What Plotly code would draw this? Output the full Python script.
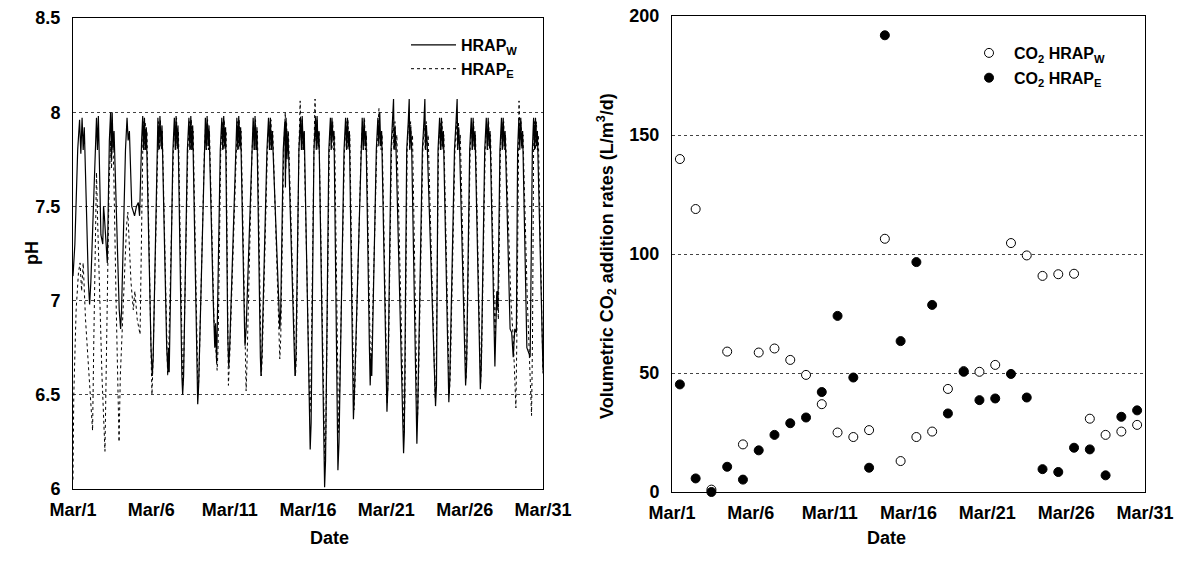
import plotly.graph_objects as go

# ---------------- data ----------------
tick_days = [0, 5, 10, 15, 20, 25, 30]
tick_labels = ["Mar/1", "Mar/6", "Mar/11", "Mar/16", "Mar/21", "Mar/26", "Mar/31"]

# pH time series (time in days since Mar/1 00:00)
ph_w_t = [
    0.0, 0.12, 0.3, 0.42, 0.5, 0.58, 0.65, 0.72, 0.98, 1.06, 1.14,
    1.4, 1.5, 1.56, 1.62, 1.68, 1.78, 1.9, 1.95, 2.0, 2.19,
    2.32, 2.4, 2.45, 2.5, 2.56, 2.62, 2.95, 3.04, 3.1,
    3.35, 3.45, 3.52, 3.6, 3.75, 3.93, 4.05, 4.17, 4.25,
    4.38, 4.45, 4.5, 4.56, 4.62, 4.68, 4.98, 5.06, 5.12,
    5.35, 5.42, 5.48, 5.55, 5.62, 5.68, 5.98, 6.06, 6.1, 6.14,
    6.38, 6.47, 6.53, 6.58, 6.64, 6.7, 6.95, 7.0, 7.06,
    7.3, 7.4, 7.46, 7.52, 7.58, 7.64, 7.9, 7.96, 8.02,
    8.36, 8.45, 8.5, 8.56, 8.62, 8.68, 8.95, 9.05, 9.1, 9.17,
    9.4, 9.5, 9.56, 9.62, 9.68, 9.74, 9.88, 9.94, 10.0,
    10.36, 10.46, 10.52, 10.58, 10.64, 10.7, 10.95, 10.98, 11.05,
    11.4, 11.5, 11.56, 11.62, 11.68, 11.74, 11.96, 12.0, 12.06,
    12.38, 12.48, 12.54, 12.6, 12.66, 12.72, 13.1, 13.2, 13.26,
    13.42, 13.52, 13.56, 13.6, 13.66, 13.72, 14.1, 14.17, 14.23,
    14.42, 14.52, 14.58, 14.63, 14.7, 14.76, 15.05, 15.1, 15.14, 15.2,
    15.38, 15.48, 15.53, 15.58, 15.64, 15.7, 16.06, 16.12,
    16.33, 16.43, 16.48, 16.53, 16.6, 16.66, 16.91, 16.98,
    17.3, 17.4, 17.46, 17.52, 17.58, 17.64, 17.9, 17.96,
    18.36, 18.46, 18.52, 18.58, 18.64, 18.7, 18.92, 18.97, 19.03, 19.07,
    19.36, 19.46, 19.52, 19.58, 19.64, 19.7, 20.04, 20.1,
    20.3, 20.4, 20.46, 20.5, 20.56, 20.62, 21.05, 21.1, 21.15,
    21.3, 21.4, 21.46, 21.5, 21.56, 21.62, 21.95, 22.0,
    22.3, 22.4, 22.46, 22.5, 22.56, 22.62, 23.1, 23.14, 23.2,
    23.3, 23.4, 23.46, 23.52, 23.58, 23.64, 23.99, 24.05,
    24.35, 24.45, 24.52, 24.56, 24.62, 24.68, 25.06, 25.12,
    25.32, 25.42, 25.48, 25.54, 25.6, 25.66, 26.0, 26.06,
    26.28, 26.38, 26.44, 26.5, 26.56, 26.62, 26.93, 27.05, 27.12,
    27.25, 27.35, 27.4, 27.46, 27.52, 27.58, 27.9, 28.0, 28.1, 28.2, 28.3,
    28.38, 28.46, 28.52, 28.58, 28.64, 28.7, 28.97, 29.1, 29.18,
    29.32, 29.4, 29.46, 29.52, 29.58, 29.64, 30.0,
]
ph_w_v = [
    7.13, 7.3, 7.8, 7.96, 7.78, 7.97, 7.8, 7.92, 7.1, 6.98, 7.1,
    7.8, 7.97, 7.8, 7.98, 7.75, 7.35, 7.3, 7.5, 7.45, 7.2,
    7.85, 8.0, 7.75, 8.0, 7.8, 7.9, 6.95, 6.85, 6.95,
    7.8, 7.97, 7.85, 7.9, 7.5, 7.45, 7.5, 7.52, 7.45,
    7.85, 7.98, 7.8, 7.97, 7.8, 7.92, 6.75, 6.6, 6.7,
    7.8, 7.97, 7.8, 7.98, 7.82, 7.93, 6.75, 6.62, 6.75, 6.62,
    7.8, 7.97, 7.8, 7.98, 7.82, 7.93, 6.6, 6.5, 6.6,
    7.8, 7.97, 7.8, 7.98, 7.8, 7.93, 6.55, 6.45, 6.55,
    7.8, 7.97, 7.8, 7.98, 7.82, 7.93, 7.0, 6.75, 6.88, 6.67,
    7.8, 7.97, 7.8, 7.98, 7.82, 7.92, 6.8, 6.65, 6.75,
    7.8, 7.97, 7.8, 7.98, 7.82, 7.92, 6.85, 6.76, 6.85,
    7.8, 7.97, 7.8, 7.98, 7.8, 7.92, 6.7, 6.6, 6.72,
    7.8, 7.97, 7.8, 7.97, 7.8, 7.9, 7.0, 6.85, 6.95,
    7.8, 7.95, 7.6, 7.97, 7.75, 7.9, 6.7, 6.6, 6.7,
    7.8, 7.97, 7.8, 7.98, 7.8, 7.9, 6.5, 6.3, 6.21, 6.35,
    7.8, 7.97, 7.8, 7.98, 7.82, 7.9, 6.01, 6.15,
    7.8, 7.97, 7.8, 7.97, 7.85, 7.9, 6.1, 6.25,
    7.8, 7.97, 7.8, 7.97, 7.82, 7.9, 6.37, 6.5,
    7.8, 7.97, 7.8, 7.97, 7.82, 7.9, 6.75, 6.55, 6.72, 6.6,
    7.8, 7.97, 7.82, 8.0, 7.82, 7.9, 6.41, 6.55,
    7.8, 7.95, 8.07, 7.8, 7.92, 7.8, 6.25, 6.19, 6.3,
    7.8, 7.95, 8.07, 7.8, 7.92, 7.8, 6.24, 6.4,
    7.8, 7.95, 8.07, 7.8, 7.93, 7.8, 6.5, 6.44, 6.55,
    7.8, 7.97, 7.8, 7.97, 7.82, 7.9, 6.46, 6.58,
    7.8, 7.95, 8.07, 7.8, 7.92, 7.8, 6.55, 6.65,
    7.8, 7.97, 7.8, 7.97, 7.82, 7.9, 6.53, 6.65,
    7.8, 7.97, 7.8, 7.97, 7.82, 7.9, 6.65, 7.05, 6.95,
    7.8, 7.97, 7.8, 7.97, 7.82, 7.9, 6.85, 6.83, 6.7, 6.85, 6.83,
    7.8, 7.97, 7.8, 7.97, 7.82, 7.9, 6.75, 6.72, 6.7,
    7.8, 7.97, 7.8, 7.97, 7.82, 7.9, 6.63,
]

ph_e_t = [
    0.0, 0.05, 0.2, 0.35, 0.45, 0.55, 0.65, 0.8, 0.95, 1.1, 1.25, 1.33,
    1.43, 1.5, 1.58, 1.7, 1.85, 2.04, 2.12,
    2.3, 2.4, 2.46, 2.52, 2.6, 2.75, 2.94, 3.02,
    3.3, 3.42, 3.5, 3.58, 3.7, 3.85, 3.95, 4.1, 4.28, 4.33,
    4.42, 4.48, 4.54, 4.6, 4.66, 4.72, 5.0, 5.04, 5.1,
    5.38, 5.45, 5.51, 5.58, 5.64, 5.7, 6.04, 6.1,
    6.41, 6.5, 6.56, 6.61, 6.67, 6.73, 7.0, 7.06,
    7.33, 7.43, 7.49, 7.55, 7.61, 7.67, 7.98, 8.04,
    8.39, 8.48, 8.53, 8.59, 8.65, 8.71, 9.0, 9.2, 9.26,
    9.43, 9.53, 9.59, 9.65, 9.71, 9.77, 9.92, 10.0,
    10.39, 10.49, 10.55, 10.61, 10.67, 10.73, 11.05, 11.1,
    11.43, 11.53, 11.59, 11.65, 11.71, 11.77, 12.02, 12.08,
    12.41, 12.51, 12.57, 12.63, 12.69, 12.75, 13.2, 13.26,
    13.45, 13.55, 13.59, 13.63, 13.69, 13.75, 14.2, 14.26,
    14.42, 14.5, 14.56, 14.62, 14.68, 14.74, 15.12, 15.18,
    15.38, 15.45, 15.5, 15.58, 15.64, 15.7, 16.08, 16.14,
    16.36, 16.46, 16.52, 16.58, 16.64, 16.7, 16.95, 17.0,
    17.33, 17.43, 17.49, 17.55, 17.61, 17.67, 17.93, 18.0,
    18.39, 18.49, 18.55, 18.61, 18.67, 18.73, 19.0, 19.06,
    19.39, 19.49, 19.53, 19.59, 19.67, 19.73, 20.06, 20.12,
    20.33, 20.43, 20.49, 20.55, 20.61, 20.67, 21.12, 21.18,
    21.33, 21.43, 21.49, 21.55, 21.61, 21.67, 21.98, 22.04,
    22.33, 22.43, 22.49, 22.55, 22.61, 22.67, 23.12, 23.18,
    23.33, 23.43, 23.49, 23.55, 23.61, 23.67, 24.02, 24.08,
    24.38, 24.48, 24.54, 24.6, 24.66, 24.72, 25.08, 25.14,
    25.35, 25.45, 25.51, 25.57, 25.63, 25.69, 26.02, 26.08,
    26.31, 26.41, 26.47, 26.53, 26.59, 26.65, 26.95, 27.0, 27.1, 27.15,
    27.28, 27.38, 27.43, 27.49, 27.55, 27.61, 27.95, 28.1, 28.27, 28.33,
    28.41, 28.47, 28.53, 28.6, 28.66, 28.72, 29.0, 29.15, 29.27, 29.33,
    29.4, 29.46, 29.52, 29.58, 29.64, 29.7, 30.0,
]
ph_e_v = [
    6.05, 6.5, 6.95, 7.15, 7.2, 7.05, 7.2, 6.9, 6.7, 6.5, 6.31, 6.8,
    7.5, 7.68, 7.4, 7.0, 6.6, 6.2, 6.6,
    7.6, 7.85, 7.7, 7.9, 7.7, 7.0, 6.25, 6.6,
    7.2, 7.4, 7.47, 7.3, 7.1, 6.95, 7.05, 6.9, 6.82, 7.1,
    7.8, 7.95, 7.8, 7.95, 7.8, 7.9, 6.65, 6.5, 6.65,
    7.8, 7.95, 7.8, 7.96, 7.8, 7.9, 6.6, 6.7,
    7.8, 7.95, 7.8, 7.97, 7.8, 7.9, 6.55, 6.65,
    7.8, 7.95, 7.8, 7.96, 7.8, 7.9, 6.5, 6.6,
    7.8, 7.95, 7.8, 7.96, 7.8, 7.9, 6.9, 6.63, 6.75,
    7.8, 7.95, 7.8, 7.96, 7.8, 7.9, 6.55, 6.7,
    7.8, 7.95, 7.8, 7.96, 7.8, 7.9, 6.52, 6.65,
    7.8, 7.95, 7.8, 7.96, 7.8, 7.9, 6.6, 6.7,
    7.8, 7.95, 7.8, 7.96, 7.8, 7.9, 6.69, 6.8,
    7.8, 8.0, 7.7, 7.95, 7.8, 7.9, 6.6, 6.7,
    7.8, 8.06, 7.85, 7.96, 7.8, 7.9, 6.4, 6.5,
    7.8, 8.07, 7.85, 7.96, 7.8, 7.9, 6.12, 6.3,
    7.8, 7.95, 7.8, 7.95, 7.8, 7.88, 6.3, 6.45,
    7.8, 7.95, 7.8, 7.96, 7.8, 7.88, 6.42, 6.55,
    7.8, 7.95, 7.8, 7.96, 7.8, 7.88, 6.6, 6.7,
    7.8, 7.96, 8.02, 7.85, 7.8, 7.88, 6.45, 6.6,
    7.8, 7.95, 7.8, 7.95, 7.8, 7.88, 6.3, 6.45,
    7.8, 7.95, 7.8, 7.95, 7.8, 7.88, 6.35, 6.5,
    7.8, 7.95, 7.8, 7.95, 7.8, 7.88, 6.48, 6.6,
    7.8, 7.95, 7.8, 7.95, 7.8, 7.88, 6.5, 6.6,
    7.8, 7.95, 7.8, 7.95, 7.8, 7.88, 6.58, 6.7,
    7.8, 7.95, 7.8, 7.95, 7.8, 7.88, 6.56, 6.7,
    7.8, 7.95, 7.8, 7.95, 7.8, 7.88, 6.75, 7.0, 7.05, 6.9,
    7.8, 7.95, 7.8, 7.95, 7.8, 7.88, 7.0, 6.8, 6.43, 6.8,
    7.8, 8.06, 7.85, 7.95, 7.8, 7.88, 7.0, 6.7, 6.39, 6.8,
    7.8, 7.95, 7.8, 7.95, 7.8, 7.88, 6.6,
]

# CO2 addition rates (L/m3/d), one value per day (plotted at mid-day)
co2_days = [d + 0.5 for d in range(30)]
co2_w = [139.9, 118.9, 1.0, 59.0, 20.0, 58.6, 60.3, 55.5, 49.2, 36.9,
         25.0, 23.1, 26.0, 106.4, 13.0, 23.1, 25.4, 43.3, 50.8, 50.5,
         53.4, 104.6, 99.4, 90.8, 91.5, 91.7, 30.8, 24.0, 25.4, 28.2]
co2_e = [45.2, 5.7, 0.0, 10.6, 5.2, 17.5, 24.0, 28.9, 31.3, 42.0,
         74.0, 48.1, 10.2, 191.9, 63.4, 96.6, 78.6, 33.0, 50.5, 38.6,
         39.3, 49.6, 39.7, 9.6, 8.4, 18.6, 17.9, 7.0, 31.6, 34.3]

# ---------------- figure ----------------
FONT = "Liberation Sans, Arial, sans-serif"
W, H = 1179, 561
OFF = 0  # body margin removed in the page (see post_script below)


def px(x):
    return (x - OFF) / W


def py(y):
    return 1 - (y - OFF) / H


fig = go.Figure()

fig.add_trace(go.Scatter(x=ph_w_t, y=ph_w_v, mode="lines", name="<b>HRAP<sub>W</sub></b>",
                         line=dict(color="black", width=1.2), xaxis="x", yaxis="y",
                         legend="legend", legendgroup="w"))
fig.add_trace(go.Scatter(x=ph_e_t, y=ph_e_v, mode="lines", name="<b>HRAP<sub>E</sub></b>",
                         line=dict(color="black", width=1, dash="3px,3px"), xaxis="x", yaxis="y",
                         legend="legend", legendgroup="e"))

fig.add_trace(go.Scatter(x=co2_days, y=co2_w, mode="markers", name="<b>CO<sub>2</sub> HRAP<sub>W</sub></b>",
                         marker=dict(symbol="circle", size=9, color="white",
                                     line=dict(color="black", width=1)),
                         xaxis="x2", yaxis="y2", legend="legend2", legendgroup="cw", cliponaxis=False))
fig.add_trace(go.Scatter(x=co2_days, y=co2_e, mode="markers", name="<b>CO<sub>2</sub> HRAP<sub>E</sub></b>",
                         marker=dict(symbol="circle", size=9, color="black",
                                     line=dict(color="black", width=1)),
                         xaxis="x2", yaxis="y2", legend="legend2", legendgroup="ce", cliponaxis=False))

tickfont = dict(family=FONT, size=18, color="black", weight="bold")
common_x = dict(range=[0, 30], tickvals=tick_days, ticktext=tick_labels, showgrid=False,
                zeroline=False, showline=True, linecolor="black", linewidth=1, mirror=True,
                ticks="", tickfont=tickfont, ticklabelstandoff=4, automargin=False,
                ticklabeloverflow="allow")
common_y = dict(showgrid=True, gridcolor="#444", griddash="dot", gridwidth=1, zeroline=False,
                showline=True, linecolor="black", linewidth=1, mirror=True, ticks="",
                tickfont=tickfont, ticklabelstandoff=8, automargin=False,
                ticklabeloverflow="allow")

fig.update_layout(
    width=W, height=H,
    margin=dict(l=0, r=0, t=0, b=0, autoexpand=False),
    paper_bgcolor="white", plot_bgcolor="white",
    font=dict(family=FONT, color="black"),
    xaxis=dict(domain=[px(73), px(543)], anchor="y", **common_x),
    yaxis=dict(domain=[py(489), py(18)], anchor="x", range=[6, 8.5],
               tickvals=[6, 6.5, 7, 7.5, 8, 8.5], ticktext=["6", "6.5", "7", "7.5", "8", "8.5"],
               **common_y),
    xaxis2=dict(domain=[px(672), px(1145)], anchor="y2", **common_x),
    yaxis2=dict(domain=[py(492), py(16)], anchor="x2", range=[0, 200],
                tickvals=[0, 50, 100, 150, 200], ticktext=["0", "50", "100", "150", "200"],
                **common_y),
    legend=dict(x=px(406), y=py(28), xanchor="left", yanchor="top",
                bgcolor="rgba(0,0,0,0)", font=dict(family=FONT, size=16, color="black"),
                itemwidth=45, tracegroupgap=0),
    legend2=dict(x=px(964), y=py(36), xanchor="left", yanchor="top",
                 bgcolor="rgba(0,0,0,0)", font=dict(family=FONT, size=16, color="black"),
                 itemwidth=40, tracegroupgap=1),
    showlegend=True,
)

ann_font = dict(family=FONT, size=18, color="black", weight="bold")
fig.add_annotation(text="pH", x=px(20), y=py(253), xref="paper", yref="paper",
                   showarrow=False, textangle=-90, font=ann_font)
fig.add_annotation(text="Date", x=px(308), y=py(550), xref="paper", yref="paper",
                   showarrow=False, font=ann_font)
fig.add_annotation(text="Date", x=px(908), y=py(550), xref="paper", yref="paper",
                   showarrow=False, font=ann_font)
fig.add_annotation(text="Volumetric CO<sub>2</sub> addition rates (L/m<sup>3</sup>/d)",
                   x=px(607), y=py(256), xref="paper", yref="paper",
                   showarrow=False, textangle=-90, font=ann_font)

fig.write_html("out.html", config={"displayModeBar": False},
               post_script="document.body.style.margin='0';document.body.style.overflow='hidden';")
